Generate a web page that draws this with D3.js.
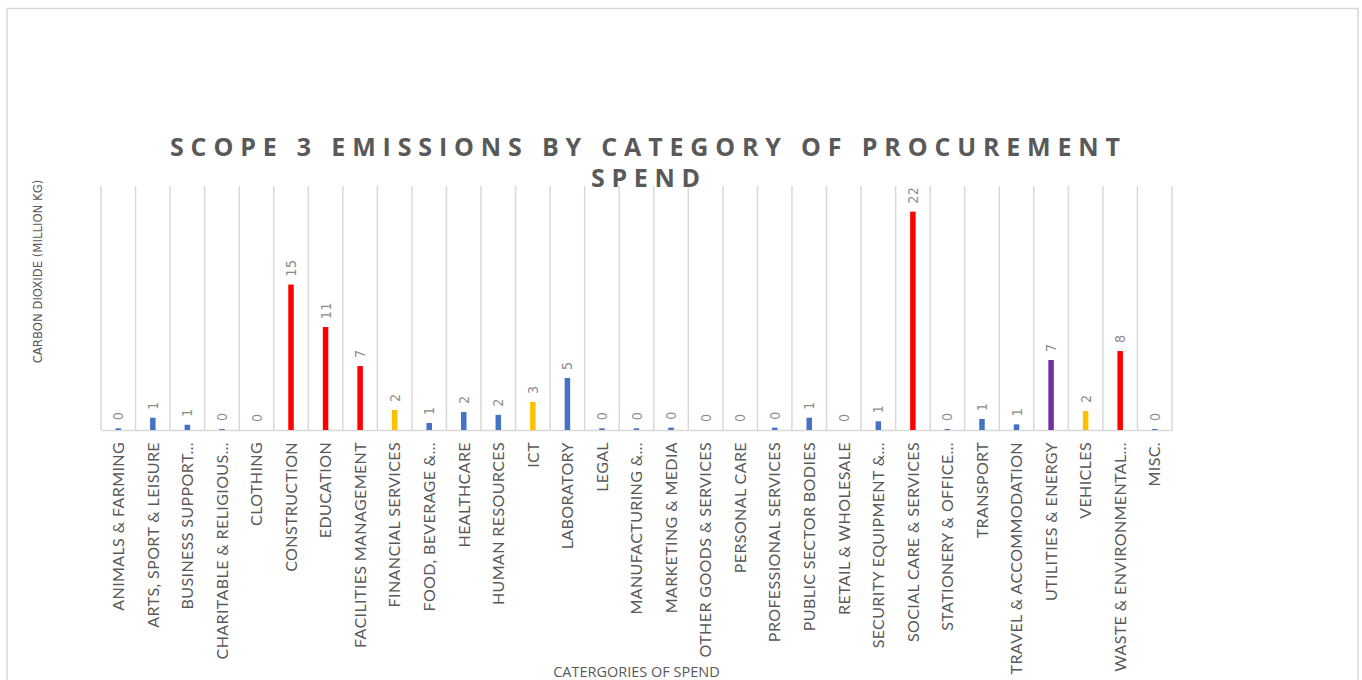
<!DOCTYPE html>
<html>
<head>
<meta charset="utf-8">
<script src="https://cdn.jsdelivr.net/npm/d3@7"></script>
<style>
  html, body { margin: 0; padding: 0; background: #fff; overflow: hidden; }
  svg { display: block; }
</style>
</head>
<body>
<div id="chart"></div>
<script>
// Category labels as shown on the axis (Excel truncated the long ones)
const categories = [
  "ANIMALS & FARMING", "ARTS, SPORT & LEISURE", "BUSINESS SUPPORT…", "CHARITABLE & RELIGIOUS…",
  "CLOTHING", "CONSTRUCTION", "EDUCATION", "FACILITIES MANAGEMENT", "FINANCIAL SERVICES",
  "FOOD, BEVERAGE &…", "HEALTHCARE", "HUMAN RESOURCES", "ICT", "LABORATORY", "LEGAL",
  "MANUFACTURING &…", "MARKETING & MEDIA", "OTHER GOODS & SERVICES", "PERSONAL CARE",
  "PROFESSIONAL SERVICES", "PUBLIC SECTOR BODIES", "RETAIL & WHOLESALE", "SECURITY EQUIPMENT &…",
  "SOCIAL CARE & SERVICES", "STATIONERY & OFFICE…", "TRANSPORT", "TRAVEL & ACCOMMODATION",
  "UTILITIES & ENERGY", "VEHICLES", "WASTE & ENVIRONMENTAL…", "MISC."
];

// Carbon dioxide, million kg
const emissions = [
  0.17, 1.26, 0.54, 0.10, 0, 14.9, 10.55, 6.55, 2.05,
  0.72, 1.84, 1.55, 2.87, 5.33, 0.17,
  0.17, 0.24, 0, 0,
  0.24, 1.26, 0, 0.89,
  22.37, 0.10, 1.13, 0.58,
  7.17, 1.95, 8.09, 0.10
];

// Highlight group of each category
const groups = [
  "other", "other", "other", "other", "other", "high", "high", "high", "mid",
  "other", "other", "other", "mid", "other", "other",
  "other", "other", "other", "other",
  "other", "other", "other", "other",
  "high", "other", "other", "other",
  "energy", "mid", "high", "other"
];

const yTicks = [0, 25];

const groupColors = {
  other: "#4472C4",
  high: "#FF0000",
  mid: "#FFC000",
  energy: "#7030A0"
};

const W = 1362, H = 680;
const plot = { left: 101, right: 1172, top: 186, bottom: 430 };

const svg = d3.select("#chart")
  .append("svg")
  .attr("width", W)
  .attr("height", H);

// outer chart frame
svg.append("rect")
  .attr("x", 7).attr("y", 8.5)
  .attr("width", 1351).attr("height", 700)
  .attr("fill", "none")
  .attr("stroke", "#d9d9d9")
  .attr("stroke-width", 1.5);

const data = categories.map((c, i) => ({ cat: c, value: emissions[i], group: groups[i] }));

const x = d3.scaleBand()
  .domain(categories)
  .range([plot.left, plot.right]);

const y = d3.scaleLinear()
  .domain(d3.extent(yTicks))
  .range([plot.bottom, plot.top]);

// vertical gridlines at category boundaries
const bounds = categories.map(c => x(c)).concat([plot.right]);
svg.append("g")
  .selectAll("line")
  .data(bounds)
  .join("line")
  .attr("x1", d => d).attr("x2", d => d)
  .attr("y1", plot.top).attr("y2", plot.bottom)
  .attr("stroke", "#d9d9d9")
  .attr("stroke-width", 1.5);

// category axis
const xAxisG = svg.append("g")
  .attr("transform", `translate(0,${plot.bottom})`)
  .call(d3.axisBottom(x).tickSize(0).tickPadding(0));

xAxisG.select(".domain")
  .attr("stroke", "#d9d9d9")
  .attr("stroke-width", 1.5);

xAxisG.selectAll(".tick text")
  .attr("transform", "translate(0,12) rotate(-90)")
  .attr("x", 0).attr("y", 0)
  .attr("dy", "0.36em")
  .attr("text-anchor", "end")
  .attr("fill", "#595959")
  .style("font-family", "Lato, 'DejaVu Sans Condensed', sans-serif")
  .style("font-size", "16px")
  .style("letter-spacing", "0.4px");

// bars
const barW = 5.5;
svg.append("g")
  .selectAll("rect")
  .data(data)
  .join("rect")
  .attr("x", d => x(d.cat) + x.bandwidth() / 2 - barW / 2)
  .attr("y", d => y(d.value))
  .attr("width", barW)
  .attr("height", d => y(0) - y(d.value))
  .attr("fill", d => groupColors[d.group]);

// data labels
svg.append("g")
  .selectAll("text")
  .data(data)
  .join("text")
  .attr("transform", d => `translate(${x(d.cat) + x.bandwidth() / 2},${y(d.value) - 8}) rotate(-90)`)
  .attr("dy", "0.36em")
  .attr("text-anchor", "start")
  .attr("fill", "#8c8c8c")
  .style("font-family", "'DejaVu Sans Condensed', sans-serif")
  .style("font-size", "14px")
  .style("letter-spacing", "0.5px")
  .text(d => d3.format(".0f")(d.value));

// title
const titleG = svg.append("g")
  .attr("fill", "#595959")
  .style("font-family", "'Open Sans', sans-serif")
  .style("font-weight", 700)
  .style("font-size", "25px");

titleG.append("text")
  .attr("x", 170).attr("y", 156)
  .attr("textLength", 950)
  .attr("lengthAdjust", "spacing")
  .text("SCOPE 3 EMISSIONS BY CATEGORY OF PROCUREMENT");

titleG.append("text")
  .attr("x", 591).attr("y", 187)
  .attr("textLength", 109)
  .attr("lengthAdjust", "spacing")
  .text("SPEND");

// axis titles
svg.append("text")
  .attr("transform", `translate(42,${(178 + 365) / 2}) rotate(-90)`)
  .attr("text-anchor", "middle")
  .attr("fill", "#595959")
  .style("font-family", "'DejaVu Sans Condensed', sans-serif")
  .style("font-size", "13px")
  .text("CARBON DIOXIDE (MILLION KG)");

svg.append("text")
  .attr("x", (plot.left + plot.right) / 2)
  .attr("y", 677)
  .attr("text-anchor", "middle")
  .attr("fill", "#595959")
  .style("font-family", "'Open Sans', sans-serif")
  .style("font-size", "14.5px")
  .text("CATERGORIES OF SPEND");
</script>
</body>
</html>
